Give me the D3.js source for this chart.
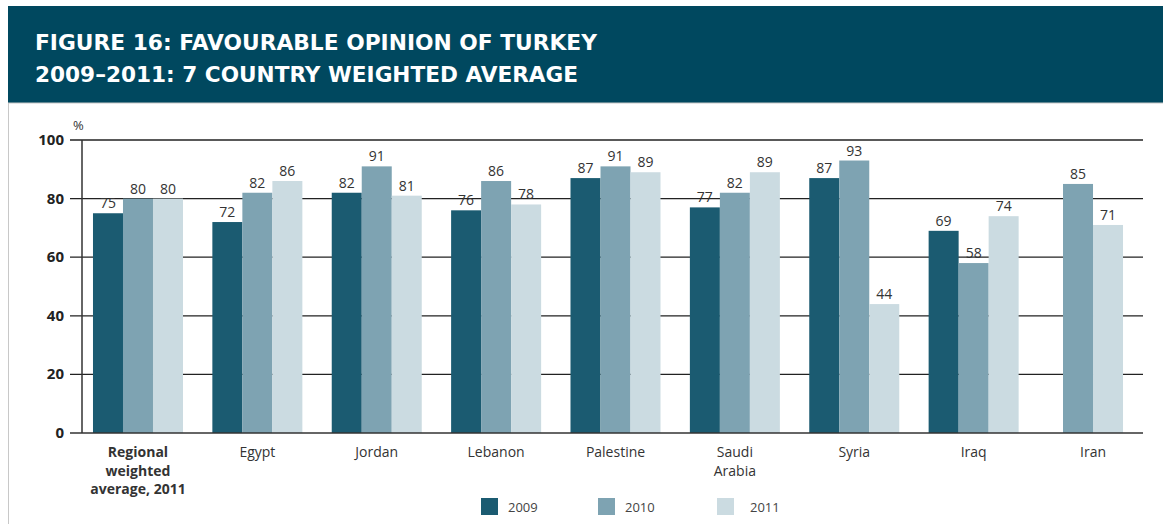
<!DOCTYPE html>
<html>
<head>
<meta charset="utf-8">
<script src="https://cdn.jsdelivr.net/npm/d3@7"></script>
<style>
  body { margin: 0; background: #fff; }
  svg { display: block; font-family: "Open Sans", sans-serif; }
</style>
</head>
<body>
<svg id="chart" width="1163" height="524"></svg>
<script>
var categories = ["Regional|weighted|average, 2011", "Egypt", "Jordan", "Lebanon", "Palestine", "Saudi|Arabia", "Syria", "Iraq", "Iran"];
var years = ["2009", "2010", "2011"];
var v2009 = [75, 72, 82, 76, 87, 77, 87, 69, null];
var v2010 = [80, 82, 91, 86, 91, 82, 93, 58, 85];
var v2011 = [80, 86, 81, 78, 89, 89, 44, 74, 71];
var yTicks = [0, 20, 40, 60, 80, 100];
var colors = ["#1b5b71", "#7ea3b2", "#cbdbe1"];

var series = [v2009, v2010, v2011];
var svg = d3.select("#chart");

// header band
svg.append("rect")
  .attr("x", 8).attr("y", 6).attr("width", 1155).attr("height", 97)
  .attr("fill", "#00485f");
svg.append("rect")
  .attr("x", 8.5).attr("y", 103).attr("width", 1160).attr("height", 430)
  .attr("fill", "none").attr("stroke", "#c8c8c8");
svg.append("text")
  .attr("x", 35).attr("y", 50)
  .attr("fill", "#fff").attr("font-size", "21px").attr("font-weight", "bold")
  .attr("font-family", "'DejaVu Sans', sans-serif")
  .attr("textLength", 562).attr("lengthAdjust", "spacingAndGlyphs")
  .text("FIGURE 16: FAVOURABLE OPINION OF TURKEY");
svg.append("text")
  .attr("x", 35).attr("y", 82)
  .attr("fill", "#fff").attr("font-size", "21px").attr("font-weight", "bold")
  .attr("font-family", "'DejaVu Sans', sans-serif")
  .attr("textLength", 543).attr("lengthAdjust", "spacingAndGlyphs")
  .text("2009–2011: 7 COUNTRY WEIGHTED AVERAGE");

var x = d3.scaleBand()
  .domain(categories)
  .range([82, 1149])
  .paddingInner(0.246)
  .paddingOuter(0.092);

var y = d3.scaleLinear()
  .domain([0, 100])
  .range([433, 140]);

// gridlines + ticks
svg.append("g").selectAll("line")
  .data(yTicks.filter(function (d) { return d > 0; }))
  .enter().append("line")
  .attr("x1", 70).attr("x2", 1143)
  .attr("y1", function (d) { return y(d); })
  .attr("y2", function (d) { return y(d); })
  .attr("stroke", "#222").attr("stroke-width", 1.3);

svg.append("g").selectAll("text")
  .data(yTicks)
  .enter().append("text")
  .attr("x", 64)
  .attr("y", function (d) { return y(d) + 5; })
  .attr("text-anchor", "end")
  .attr("font-size", "15px").attr("font-weight", "bold").attr("fill", "#222")
  .text(function (d) { return d; });

svg.append("text")
  .attr("x", 73).attr("y", 130)
  .attr("font-size", "13px").attr("fill", "#333")
  .text("%");

// bars
var bw = x.bandwidth() / 3;
categories.forEach(function (c, i) {
  var present = [];
  series.forEach(function (s, k) { if (s[i] != null) present.push(k); });
  var start = x(c) + (x.bandwidth() - present.length * bw) / 2;
  present.forEach(function (k, j) {
    var val = series[k][i];
    var bx = start + j * bw;
    svg.append("rect")
      .attr("x", bx).attr("width", bw)
      .attr("y", y(val)).attr("height", y(0) - y(val))
      .attr("fill", colors[k]);
    svg.append("text")
      .attr("x", bx + bw / 2).attr("y", y(val) - 5)
      .attr("text-anchor", "middle")
      .attr("font-size", "14px").attr("fill", "#333")
      .text(val);
  });
});

// axes lines
svg.append("line")
  .attr("x1", 82).attr("x2", 82).attr("y1", 140).attr("y2", 433)
  .attr("stroke", "#333").attr("stroke-width", 1.5);
svg.append("line")
  .attr("x1", 70).attr("x2", 1143).attr("y1", 433).attr("y2", 433)
  .attr("stroke", "#333").attr("stroke-width", 1.5);

// category labels
categories.forEach(function (c, i) {
  var lines = c.split("|");
  var t = svg.append("text")
    .attr("x", x(c) + x.bandwidth() / 2).attr("y", 457)
    .attr("text-anchor", "middle")
    .attr("font-size", "14px").attr("fill", "#333")
    .attr("font-weight", i === 0 ? "bold" : "normal");
  lines.forEach(function (l, j) {
    t.append("tspan")
      .attr("x", x(c) + x.bandwidth() / 2)
      .attr("dy", j === 0 ? 0 : 18.5)
      .text(l);
  });
});

// legend
var legX = [481, 598, 717];
years.forEach(function (yr, k) {
  svg.append("rect")
    .attr("x", legX[k]).attr("y", 498).attr("width", 17).attr("height", 17)
    .attr("fill", colors[k]);
  svg.append("text")
    .attr("x", legX[k] + 27 + (k === 2 ? 6 : 0)).attr("y", 512)
    .attr("font-size", "13px").attr("fill", "#444")
    .text(yr);
});
</script>
</body>
</html>
